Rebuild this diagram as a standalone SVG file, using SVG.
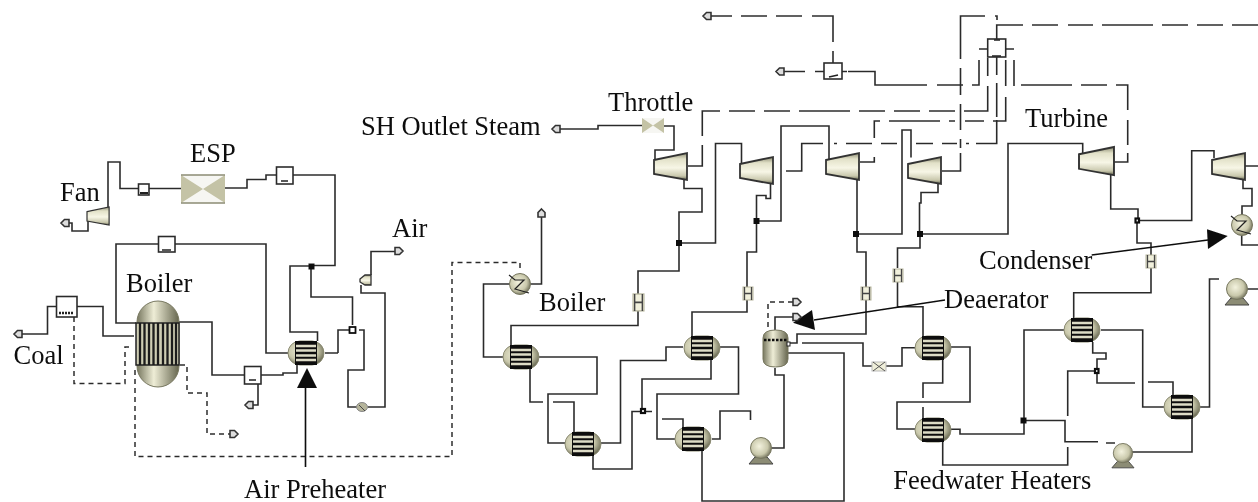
<svg xmlns="http://www.w3.org/2000/svg" xmlns:xlink="http://www.w3.org/1999/xlink" width="1258" height="502" viewBox="0 0 1258 502">
<style>
.l{fill:none;stroke:#2c2c2c;stroke-width:1.6}
.ds{fill:none;stroke:#2c2c2c;stroke-width:1.5;stroke-dasharray:5 4}
.t{font-family:"Liberation Serif","Times New Roman",serif;font-size:26.5px;fill:#111}
.blk{fill:#fff;stroke:#2c2c2c;stroke-width:1.6}
.jn{fill:#111;stroke:#111}
.jo{fill:#fff;stroke:#111;stroke-width:2.2}
.pt{fill:url(#tg);stroke:#333;stroke-width:1.8}
.ar{fill:#111;stroke:none}
</style>
<defs>
<filter id="soft" x="-2%" y="-2%" width="104%" height="104%"><feGaussianBlur stdDeviation="0.35"/></filter>
<linearGradient id="tg" x1="0" y1="0" x2="0" y2="1"><stop offset="0" stop-color="#8b8b72"/><stop offset=".22" stop-color="#e2e1c8"/><stop offset=".55" stop-color="#f7f6e6"/><stop offset=".85" stop-color="#c9c8ad"/><stop offset="1" stop-color="#66664f"/></linearGradient>
<linearGradient id="sg" x1="0" y1="0" x2="1" y2="0"><stop offset="0" stop-color="#77775f"/><stop offset=".4" stop-color="#eeedd6"/><stop offset="1" stop-color="#66664f"/></linearGradient>
<radialGradient id="rg" cx=".42" cy=".42" r=".62"><stop offset="0" stop-color="#f3f2de"/><stop offset=".65" stop-color="#c9c8ab"/><stop offset="1" stop-color="#6e6e58"/></radialGradient>
<g id="turb"><path class="pt" d="M0 7 33 0V27L0 21Z"/></g>
<g id="hx"><rect x="0" y="0" width="36" height="24" rx="12" ry="12" fill="url(#rg)" stroke="#8a8a72"/><rect x="7" y="0" width="22" height="24" fill="#111"/><path d="M8 5H28M8 9.500H28M8 14.500H28M8 19H28" stroke="#dddcc6" stroke-width="2.400"/></g>
<g id="valve"><rect x="0" y="0" width="10" height="13" fill="#f1f0dc" stroke="#b5b49c"/><path d="M1.500 0V13M8.500 0V13M1.500 6.500H8.500" fill="none" stroke="#444" stroke-width="1.300"/></g>
<g id="pump"><path d="M1 27H25L19 20H7Z" fill="#8c8c74" stroke="#444"/><circle cx="13" cy="11" r="10.500" fill="url(#rg)" stroke="#77775f"/></g>
<g id="heat"><circle cx="11" cy="10" r="10.500" fill="url(#rg)" stroke="#77775f"/><path d="M0 1 6 6H15L6 15 20 19" fill="none" stroke="#222" stroke-width="1.200"/></g>
<path id="out" d="M0 0 3.500-3.500H8V3.500H3.500Z" fill="#ddd" stroke="#333" stroke-width="1.600"/>
</defs>
<g filter="url(#soft)">
<g id="connectors">
<path class="l" d="M66 223H72V231H88V221M108 209V162H120V188.500H138M149 188.500H181M225 188H247V179.500H266V175H276M293 175H335V265.500H311M311 266H290V332H317.500V341M311 266V297H352.500V325M338 353V330H352M325 353H338M359 330H364V370H348V407H358M368 407H385V293H361V285M371 275V251.500H396"/>
<path class="l" d="M136 323H116V244H158M175 244H266V353H288M179 322H212V375H244M261 375H283V373H297V365M258 384V405H251M20 334H47.500V306.500H56M77 306.500H103V336H134"/>
<path class="ds" d="M74 317V383.500H125V347H130M180 365H187V393H207V434H231M135 370V456.500H452V262.500H520V272"/>
<path class="l" d="M530 284H541.500V215M510 284H483.500V357H503M511 345V325.500H638V311M638 294V271H679V212H702V188.500H684V180M679 243H715.500V143.500H741.500V163"/>
<path class="l" d="M539 357H597V394H548V443H565M530 368V402H543M553 402H574V432M601 443H620.500V360.500H666V347H683M720 347H738.500V394H657V439H675M711 359V379H642V411M652 411.500H632V469H593V456M662 419H683V427"/>
<path class="l" d="M712 439H720V411H750.500V420M761 448H784V375H775V368M702 450V501H844V353H788M775 330V317H793M788 343H797V334H866V300M866 287V252H857V180"/>
<path class="ds" d="M768 327V302H793"/>
<path class="l" d="M770.500 184V198.500H766V195.500H756.500V252H747V287M747 300V312H692V337M756.500 221H781V126H829V160"/>
<path class="l" d="M856 234H902V130H911V157.500M938 184V192.500H921V203H919.500V234M920 234H1008V143.500H1082.700V153.500M1110.700 175V209H1138V220M1137.500 220.500H1191.700V150.700H1214V158M1243 180V188.500H1252V206H1242V215M1258 245H1241.700V235"/>
<path class="l" d="M1137 220V243H1151V255M1151 268V292.700H1073.700V318"/>
<path class="l" d="M802 343H863V366H872M886 366H902V347.700H915M923 337V306.700H897.500V282M897.500 268V248H920V234M951 347H970V402H897V429H915M942.700 359V383H923V398M923 407V418"/>
<path class="l" d="M1064 330H1024V434H960V429.300H951M1023.500 420.500H1065V441.700H1098M1106 443H1115M1132 452H1192V419M1164 407H1142.700V330H1101M1173 395V382H1148M1135 383H1097V359H1106V353H1092.700V342M1096.500 371H1067.700V416M1067.700 447V465H942.700V441M1200 407H1209.500V279H1219M1236 289H1258"/>
<path class="l" d="M558 129H598V125.500H642M664 126H674V150H655V159M1245 166H1258"/>
<g id="steam-dashes">
<path class="l" d="M688 166H702.300V145M702.300 136V111H720M729 111H755M764 111H790M799 111H850M859 111H885M894 111H920M929 111H955M964 111H987.700V86M987.700 76V58"/>
<path class="l" d="M786 171H801.700V143.500H823M834 143.500H837M846 143.500H872M881 143.500H897M916 143.500H933M942 143.500H957M966 143.500H969M976 143.500H996.700V120M996.700 117V83M996.700 75V57"/>
<path class="l" d="M860 162H874.300V157M874.300 138V121H880M889 121H940M949 121H955M965 121H984M993 121H1005.700V97M1005.700 86V60"/>
<path class="l" d="M942 171H960.500V153M960.500 148V139M960.500 130V104M960.500 95V68M960.500 59V16H985M995 16H997V20"/>
<path class="l" d="M996.700 39V25H1023M1032 25H1058M1068 25H1093M1102 25H1153M1162 25H1188M1197 25H1223M1232 25H1258"/>
<path class="l" d="M979 49H988M1005.700 49H1014M979 60V85H972M963 85H937M927 85H875V71.500H848M847 71.500H842M824 71.500H815M805 71.500H782"/>
<path class="l" d="M833 63V51M833 42V16H812M802 16H776M767 16H741M732 16H710"/>
<path class="l" d="M1014 60V86M1021 85H1072M1081 85H1107M1116 85H1127.700V110M1127.700 120V145M1127.700 153V162H1114"/>
</g>
<path class="l" style="stroke:#111" d="M305.500 388V467M814 320 945 300M1091.700 255 1208 240"/>
<path class="ar" d="M307 368 297 388H317Z"/>
<path class="ar" d="M793 322.700 812 310 815 330Z"/>
<path class="ar" d="M1227.700 236 1207 229.300 1208 249Z"/>
</g>
<g id="fan"><use href="#turb" transform="translate(87 207) scale(.67 .67)"/></g>
<g id="fan-block"><rect class="blk" x="138.500" y="184" width="10.500" height="11"/><path d="M140 193H148" stroke="#222" stroke-width="2"/></g>
<g id="esp"><rect x="181" y="175" width="44" height="28" fill="#c4c3a6"/><path d="M181 175H225L203 189ZM181 203H225L203 189Z" fill="#fff" opacity=".85"/><path d="M181 175H225M181 203H225" stroke="#8c8c74" stroke-width="1.500"/></g>
<g id="sep-esp"><rect class="blk" x="276.500" y="167" width="16.500" height="17"/><path d="M281 181H288" stroke="#222" stroke-width="1.500"/></g>
<g id="sep-top"><rect class="blk" x="158.500" y="236.500" width="16.500" height="15.500"/><path d="M162 250H171" stroke="#222" stroke-width="1.500"/></g>
<g id="coal-block"><rect class="blk" x="56.500" y="296.500" width="20.500" height="20.500"/><path d="M59 313H74" stroke="#222" stroke-width="2.500" stroke-dasharray="2 1"/></g>
<g id="boiler"><rect x="137" y="301" width="42" height="86" rx="21" ry="21" fill="url(#sg)" stroke="#77775f"/><rect x="136" y="323" width="43" height="42" fill="#cfceb4" stroke="#222" stroke-width="1.500"/><path d="M140 323V365M144.500 323V365M149 323V365M153.500 323V365M158 323V365M163 323V365M167.500 323V365M172 323V365M176 323V365" stroke="#1a1a1a" stroke-width="2.300"/></g>
<g id="sep-boiler"><rect class="blk" x="244.500" y="366.500" width="16.500" height="17.500"/><path d="M249 380H256" stroke="#222" stroke-width="1.500"/></g>
<g id="air-preheater"><use href="#hx" x="288" y="341"/></g>
<g id="mixer-a"><rect class="jn" x="309" y="264" width="5" height="5"/></g>
<g id="mixer-b"><rect x="349.500" y="327" width="6" height="6" fill="#fff" stroke="#111" stroke-width="1.800"/></g>
<g id="air-heater"><ellipse cx="362" cy="407" rx="5.500" ry="4.500" fill="#b5b49a" stroke="#888"/><path d="M359 405 365 411" stroke="#444"/></g>
<g id="air-fan"><path d="M360 279 365 275H371V285H365L360 282Z" fill="url(#tg)" stroke="#333" stroke-width="1.300"/></g>
<g id="ports">
<use href="#out" x="61" y="223"/><use href="#out" x="14" y="334"/><use href="#out" x="245" y="405"/><use href="#out" transform="translate(238 434) scale(-1 1)"/><use href="#out" transform="translate(403 251) scale(-1 1)"/><use href="#out" transform="translate(541.500 209) rotate(90)"/><use href="#out" x="552" y="129"/><use href="#out" x="776" y="71.500"/><use href="#out" x="703" y="16"/><use href="#out" transform="translate(801 317) scale(-1 1)"/><use href="#out" transform="translate(801 302) scale(-1 1)"/>
</g>
<g id="throttle"><rect x="642" y="118" width="22" height="15" fill="#c4c3a6"/><path d="M642 118H664L653 125.500ZM642 133H664L653 125.500Z" fill="#fff" opacity=".85"/></g>
<g id="turbine-1"><use href="#turb" x="654" y="153"/></g>
<g id="turbine-2"><use href="#turb" x="740" y="157"/></g>
<g id="turbine-3"><use href="#turb" x="826" y="153"/></g>
<g id="turbine-4"><use href="#turb" x="908" y="157"/></g>
<g id="turbine-5"><use href="#turb" transform="translate(1079 147) scale(1.060 1.040)"/></g>
<g id="turbine-6"><use href="#turb" x="1212" y="153"/></g>
<g id="block-2"><rect class="blk" x="824" y="63" width="18" height="16"/><path d="M829 77 838 75" stroke="#222" stroke-width="1.600"/></g>
<g id="block-1"><rect class="blk" x="987.700" y="39" width="18" height="18"/><path d="M992 56H1001M994 40H1000" stroke="#222" stroke-width="1.600"/></g>
<g id="heater-e"><use href="#heat" x="509" y="274"/></g>
<g id="condenser"><use href="#heat" x="1231" y="215"/></g>
<g id="hx-1"><use href="#hx" x="503" y="345"/></g>
<g id="hx-2"><use href="#hx" x="684" y="336"/></g>
<g id="hx-3"><use href="#hx" x="565" y="432"/></g>
<g id="hx-4"><use href="#hx" x="675" y="427"/></g>
<g id="hx-5"><use href="#hx" x="1064" y="318"/></g>
<g id="hx-6"><use href="#hx" x="1164" y="395"/></g>
<g id="hx-7"><use href="#hx" x="915" y="418"/></g>
<g id="hx-8"><use href="#hx" x="915" y="336"/></g>
<g id="valve-1"><use href="#valve" transform="translate(633 294) scale(1.100 1.300)"/></g>
<g id="valve-2"><use href="#valve" x="743" y="287"/></g>
<g id="valve-3"><use href="#valve" x="861" y="287"/></g>
<g id="valve-4"><use href="#valve" x="893" y="269"/></g>
<g id="valve-5"><use href="#valve" x="1146" y="255"/></g>
<g id="valve-6"><rect x="872" y="362" width="14" height="9" fill="#efeed9" stroke="#bbb"/><path d="M873 362 885 371M885 362 873 371" stroke="#555"/></g>
<g id="junctions">
<rect class="jn" x="676.500" y="240.500" width="5" height="5"/><rect class="jn" x="754" y="218.500" width="5" height="5"/><rect class="jn" x="853.500" y="231.500" width="5" height="5"/><rect class="jn" x="917.500" y="231.500" width="5" height="5"/><rect class="jn" x="1021" y="418" width="5" height="5"/>
<rect class="jo" x="641" y="409" width="4" height="4"/><rect class="jo" x="1135.500" y="218.500" width="3.500" height="4"/><rect class="jo" x="1095" y="369" width="3.500" height="4"/>
</g>
<g id="deaerator"><path d="M763 338Q763 330 775.500 330Q788 330 788 338V359Q788 367 775.500 367Q763 367 763 359Z" fill="url(#sg)" stroke="#77775f"/><path d="M764 340H787" stroke="#111" stroke-width="2.500" stroke-dasharray="2.500 1.500"/><rect x="787" y="342" width="3" height="4" fill="#fff" stroke="#222"/></g>
<g id="pump-1"><use href="#pump" x="748" y="437"/></g>
<g id="pump-2"><use href="#pump" transform="translate(1111 443) scale(.92 .92)"/></g>
<g id="pump-3"><use href="#pump" x="1224" y="278"/></g>
<g id="labels">
<text class="t" x="190" y="162">ESP</text>
<text class="t" x="60" y="200.700">Fan</text>
<text class="t" x="392" y="237">Air</text>
<text class="t" x="126" y="291.700">Boiler</text>
<text class="t" x="13.500" y="364">Coal</text>
<text class="t" x="244" y="498">Air Preheater</text>
<text class="t" x="539" y="311">Boiler</text>
<text class="t" x="361" y="135">SH Outlet Steam</text>
<text class="t" x="608" y="110.700">Throttle</text>
<text class="t" x="1025" y="126.700">Turbine</text>
<text class="t" x="979" y="269">Condenser</text>
<text class="t" x="944" y="307.700">Deaerator</text>
<text class="t" x="893.300" y="488.700">Feedwater Heaters</text>
</g>
</g>
</svg>
